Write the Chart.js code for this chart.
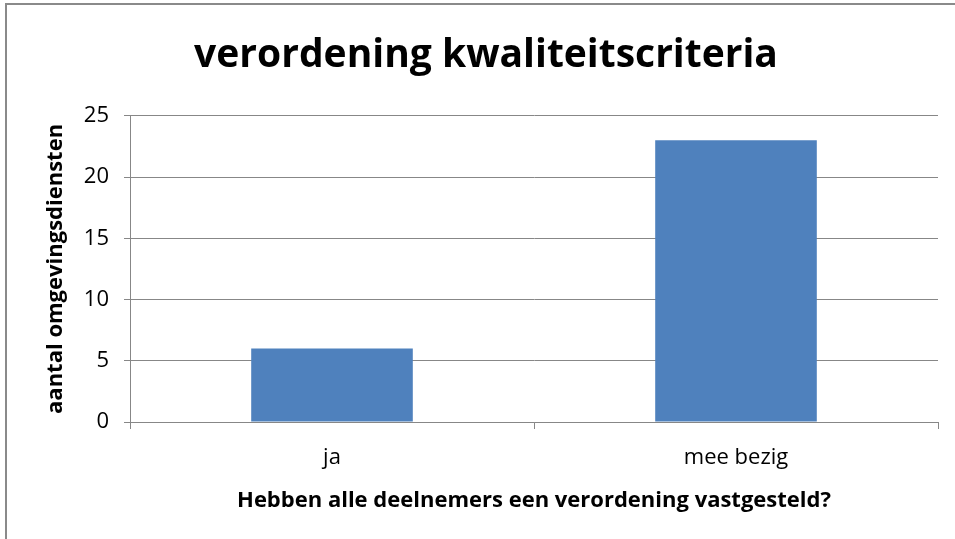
<!DOCTYPE html>
<html>
<head>
<meta charset="utf-8">
<script src="https://cdn.jsdelivr.net/npm/chart.js@4"></script>
<style>
html,body{margin:0;padding:0;background:#fff;}
#wrap{width:955px;height:539px;position:relative;}
</style>
</head>
<body>
<div id="wrap"><canvas id="c" width="955" height="539"></canvas></div>
<script>
const categories = ["ja", "mee bezig"];
const seriesValues = [6, 23];
const yTicks = [0, 5, 10, 15, 20, 25];
const chartTitle = "verordening kwaliteitscriteria";
const xTitle = "Hebben alle deelnemers een verordening vastgesteld?";
const yTitle = "aantal omgevingsdiensten";

const FONT = "'Open Sans'";
const GRID = "#878787";

const frame = {
  id: "frame",
  beforeDraw(chart) {
    const ctx = chart.ctx;
    ctx.save();
    ctx.fillStyle = "#fff";
    ctx.fillRect(0, 0, chart.width, chart.height);
    ctx.strokeStyle = "#8a8a8a";
    ctx.lineWidth = 2;
    ctx.beginPath();
    ctx.moveTo(6, chart.height);
    ctx.lineTo(6, 4);
    ctx.lineTo(chart.width, 4);
    ctx.stroke();
    ctx.restore();
  }
};

new Chart(document.getElementById("c"), {
  type: "bar",
  data: {
    labels: categories,
    datasets: [{
      data: seriesValues,
      backgroundColor: "#4F81BD",
      borderWidth: 0,
      barPercentage: 0.4,
      categoryPercentage: 1.0
    }]
  },
  options: {
    responsive: false,
    animation: false,
    devicePixelRatio: 1,
    layout: { padding: { left: 34, right: 17, top: 0, bottom: 0 } },
    plugins: {
      legend: { display: false },
      tooltip: { enabled: false },
      title: {
        display: true,
        text: chartTitle,
        color: "#000",
        font: { family: FONT, size: 39, weight: "bold", lineHeight: 1.2 },
        padding: { top: 32, bottom: 37 }
      }
    },
    scales: {
      x: {
        offset: true,
        grid: { display: true, drawOnChartArea: false, drawTicks: true, tickLength: 7, color: GRID, offset: true },
        border: { display: true, color: GRID, width: 1 },
        ticks: { color: "#000", font: { family: FONT, size: 22 }, padding: 16 },
        title: {
          display: true, text: xTitle, color: "#000",
          font: { family: FONT, size: 22, weight: "bold", lineHeight: 1.2 },
          padding: { top: 20, bottom: 25 }
        },
        afterFit(scale) { scale.height = 117; }
      },
      y: {
        min: 0, max: 25,
        afterBuildTicks(scale) { scale.ticks = yTicks.map(v => ({ value: v })); },
        grid: { color: GRID, drawTicks: true, tickLength: 6 },
        border: { display: true, color: GRID, width: 1 },
        ticks: { color: "#000", font: { family: FONT, size: 22 }, padding: 15 },
        title: {
          display: true, text: yTitle, color: "#000",
          font: { family: FONT, size: 22, weight: "bold", lineHeight: 1.2 },
          padding: { top: 9, bottom: 0 }
        },
        afterFit(scale) { scale.width = 96; }
      }
    }
  },
  plugins: [frame]
});
</script>
</body>
</html>
